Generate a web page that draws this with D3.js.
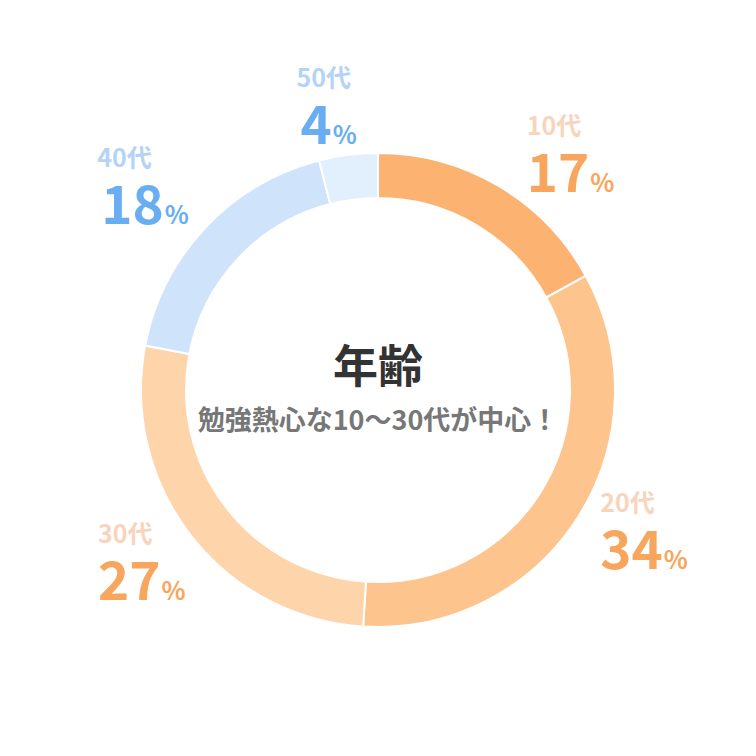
<!DOCTYPE html>
<html>
<head>
<meta charset="utf-8">
<script src="https://cdn.jsdelivr.net/npm/d3@7"></script>
<style>
  body { margin: 0; background: #fff; }
  text { font-family: "Noto Sans CJK JP", sans-serif; font-weight: bold; }
</style>
</head>
<body>
<script>
// data
var ages = ["10代", "20代", "30代", "40代", "50代"];
var shares = [17, 34, 27, 18, 4];
var title = "年齢";
var subtitle = "勉強熱心な10～30代が中心！";

var width = 756, height = 756;
var cx = 378, cy = 390;
var outerR = 237, innerR = 192;

var sliceColors = ["#fcb271", "#fdc48e", "#fed4ab", "#cfe4fb", "#e2effc"];
var labelColors = ["#f7d5bd", "#f7d5bd", "#f7d5bd", "#b5d3f4", "#b5d3f4"];
var numColors = ["#f8a65e", "#f8a65e", "#f8a65e", "#69adf2", "#69adf2"];
// label nudges from the arc centroid
var nudge = [[-4, 3], [-31, -39], [-43, -31], [-62, -18], [-44, -5]];

var svg = d3.select("body").append("svg")
    .attr("width", width)
    .attr("height", height);

var g = svg.append("g")
    .attr("transform", "translate(" + cx + "," + cy + ")");

var pie = d3.pie().sort(null).value(function(d) { return d; });
var arcs = pie(shares);

var arc = d3.arc().innerRadius(innerR).outerRadius(outerR);

g.selectAll("path.slice")
    .data(arcs)
    .enter().append("path")
    .attr("class", "slice")
    .attr("d", arc)
    .attr("fill", function(d, i) { return sliceColors[i]; })
    .attr("stroke", "#fff")
    .attr("stroke-width", 2);

// labels
var labelArc = d3.arc().innerRadius(300).outerRadius(300);

var lab = g.selectAll("g.lab")
    .data(arcs)
    .enter().append("g")
    .attr("class", "lab")
    .attr("transform", function(d, i) {
      var c = labelArc.centroid(d);
      return "translate(" + (c[0] + nudge[i][0]) + "," + (c[1] + nudge[i][1]) + ")";
    });

lab.append("text")
    .attr("x", 0)
    .attr("y", 0)
    .attr("font-size", "25px")
    .attr("fill", function(d, i) { return labelColors[i]; })
    .text(function(d, i) { return ages[i]; });

var num = lab.append("text")
    .attr("x", function(d, i) { return i >= 3 ? 4 : 0; })
    .attr("y", 57)
    .attr("fill", function(d, i) { return numColors[i]; });

num.append("tspan")
    .attr("font-size", "53px")
    .text(function(d) { return d.data; });
num.append("tspan")
    .attr("font-size", "25px")
    .attr("dx", 1)
    .text("%");

// center text
g.append("text")
    .attr("text-anchor", "middle")
    .attr("y", -7)
    .attr("font-size", "45px")
    .attr("fill", "#333")
    .text(title);

g.append("text")
    .attr("text-anchor", "middle")
    .attr("y", 40)
    .attr("font-size", "27px")
    .attr("fill", "#777")
    .text(subtitle);
</script>
</body>
</html>
